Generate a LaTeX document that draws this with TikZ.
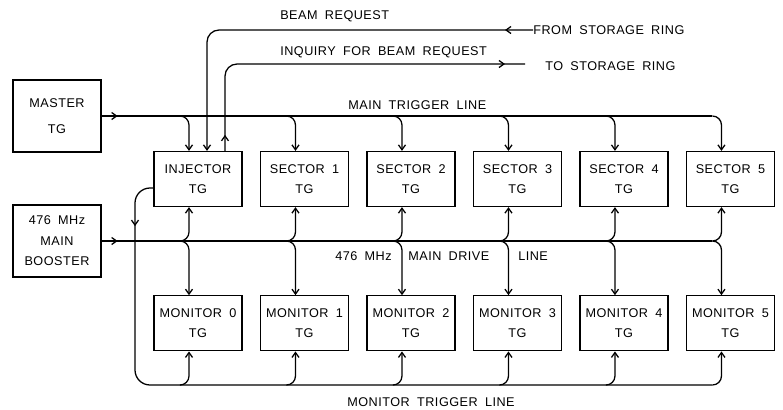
\documentclass[tikz,border=0pt]{standalone}
\usepackage{fontspec}
\setsansfont{Liberation Sans}[WordSpace=1.8, LetterSpace=4]
\usetikzlibrary{arrows.meta, positioning, calc, decorations.markings}

\begin{document}
\begin{tikzpicture}[
        x=0.025cm, y=-0.025cm,
        font=\sffamily\fontsize{9}{14.5}\selectfont,
        >={Straight Barb[length=3.5pt,width=5pt]},
        tg/.style={
            draw,
            line width=0.9pt,
            minimum width=2.2cm,
            minimum height=1.375cm,
            align=center,
            inner sep=2pt
        },
        src/.style={
            tg,
            minimum height=1.8cm
        },
        note/.style={inner sep=0pt, anchor=west},
        line/.style={draw, line width=0.9pt, rounded corners=0.225cm},
        line_arrow/.style={line, ->},
        mid_arrow/.style={
            postaction={decorate, decoration={markings, mark=at position #1 with {\arrow{>}}}}
        }
    ]
    \useasboundingbox (0,0) rectangle (783,409);

    % Sources
    \node[src] (master) at (57,116) {MASTER\\[4pt]TG};
    \node[src] (boost) at (57,241) {476 MHz\\MAIN\\BOOSTER};

    % Trigger generators
    \node[tg] (inj) at (198,179) {INJECTOR\\TG};
    \node[tg, right=0.43cm of inj] (s1) {SECTOR 1\\TG};
    \node[tg, right=0.43cm of s1] (s2) {SECTOR 2\\TG};
    \node[tg, right=0.43cm of s2] (s3) {SECTOR 3\\TG};
    \node[tg, right=0.43cm of s3] (s4) {SECTOR 4\\TG};
    \node[tg, right=0.43cm of s4] (s5) {SECTOR 5\\TG};

    % Monitors
    \node[tg, below=2.2cm of inj] (m0) {MONITOR 0\\TG};
    \node[tg, below=2.2cm of s1] (m1) {MONITOR 1\\TG};
    \node[tg, below=2.2cm of s2] (m2) {MONITOR 2\\TG};
    \node[tg, below=2.2cm of s3] (m3) {MONITOR 3\\TG};
    \node[tg, below=2.2cm of s4] (m4) {MONITOR 4\\TG};
    \node[tg, below=2.2cm of s5] (m5) {MONITOR 5\\TG};

    % Storage ring requests
    \node[note] (beam) at (280,16) {BEAM REQUEST};
    \node[note] (from) at (533,30) {FROM STORAGE RING};
    \node[note] (inq) at (280,52) {INQUIRY FOR BEAM REQUEST};
    \node[note] (to) at (545,66) {TO STORAGE RING};
    \coordinate (to_end) at (525,64);

    \draw[line_arrow, rounded corners=0.3cm, mid_arrow=0.7cm] (from.west) -| ($(inj.north)+(9,0)$);
    \draw[line, rounded corners=0.3cm, mid_arrow=0.4cm, mid_arrow=-0.5cm] ($(inj.north)+(27,0)$) |- (to_end);

    % Main trigger line
    \node[note] (mtl) at (348,105) {MAIN TRIGGER LINE};
    \draw[line, mid_arrow=0.4cm] (master.east) -- ($(master.east -| s5.north)+(-18,0)$);
    \draw[line_arrow] ($(master.east -| inj.north)+(-18,0)$) -| ($(inj.north)+(-9,0)$);
    \draw[line_arrow] ($(master.east -| s1.north)+(-18,0)$) -| ($(s1.north)+(-9,0)$);
    \draw[line_arrow] ($(master.east -| s2.north)+(-18,0)$) -| ($(s2.north)+(-9,0)$);
    \draw[line_arrow] ($(master.east -| s3.north)+(-18,0)$) -| ($(s3.north)+(-9,0)$);
    \draw[line_arrow] ($(master.east -| s4.north)+(-18,0)$) -| ($(s4.north)+(-9,0)$);
    \draw[line_arrow] ($(master.east -| s5.north)+(-18,0)$) -| ($(s5.north)+(-9,0)$);

    % Main drive line
    \node[note] (dl1) at (335,256) {476 MHz};
    \node[note] (dl2) at (408,256) {MAIN DRIVE};
    \node[note] (dl3) at (518,256) {LINE};
    \draw[line, mid_arrow=0.4cm] (boost.east) -- ($(boost.east -| s5.south)+(-18,0)$);
    \draw[line_arrow] ($(boost.east -| inj.south)+(-18,0)$) -| ($(inj.south)+(-9,0)$);
    \draw[line_arrow] ($(boost.east -| inj.south)+(-18,0)$) -| ($(m0.north)+(-9,0)$);
    \draw[line_arrow] ($(boost.east -| s1.south)+(-18,0)$) -| ($(s1.south)+(-9,0)$);
    \draw[line_arrow] ($(boost.east -| s1.south)+(-18,0)$) -| ($(m1.north)+(-9,0)$);
    \draw[line_arrow] ($(boost.east -| s2.south)+(-18,0)$) -| ($(s2.south)+(-9,0)$);
    \draw[line_arrow] ($(boost.east -| s2.south)+(-18,0)$) -| ($(m2.north)+(-9,0)$);
    \draw[line_arrow] ($(boost.east -| s3.south)+(-18,0)$) -| ($(s3.south)+(-9,0)$);
    \draw[line_arrow] ($(boost.east -| s3.south)+(-18,0)$) -| ($(m3.north)+(-9,0)$);
    \draw[line_arrow] ($(boost.east -| s4.south)+(-18,0)$) -| ($(s4.south)+(-9,0)$);
    \draw[line_arrow] ($(boost.east -| s4.south)+(-18,0)$) -| ($(m4.north)+(-9,0)$);
    \draw[line_arrow] ($(boost.east -| s5.south)+(-18,0)$) -| ($(s5.south)+(-9,0)$);
    \draw[line_arrow] ($(boost.east -| s5.south)+(-18,0)$) -| ($(m5.north)+(-9,0)$);

    % Monitor trigger line
    \node[note] (mol) at (347,402) {MONITOR TRIGGER LINE};
    \coordinate (mt_corner) at (135,385);
    \draw[line, rounded corners=0.375cm, mid_arrow=1.25cm] ($(inj.west)+(0,9)$) -| (mt_corner) -- ($(mt_corner -| m5.south)+(-18,0)$);
    \draw[line_arrow] ($(mt_corner -| m0.south)+(-18,0)$) -| ($(m0.south)+(-9,0)$);
    \draw[line_arrow] ($(mt_corner -| m1.south)+(-18,0)$) -| ($(m1.south)+(-9,0)$);
    \draw[line_arrow] ($(mt_corner -| m2.south)+(-18,0)$) -| ($(m2.south)+(-9,0)$);
    \draw[line_arrow] ($(mt_corner -| m3.south)+(-18,0)$) -| ($(m3.south)+(-9,0)$);
    \draw[line_arrow] ($(mt_corner -| m4.south)+(-18,0)$) -| ($(m4.south)+(-9,0)$);
    \draw[line_arrow] ($(mt_corner -| m5.south)+(-18,0)$) -| ($(m5.south)+(-9,0)$);

\end{tikzpicture}
\end{document}
